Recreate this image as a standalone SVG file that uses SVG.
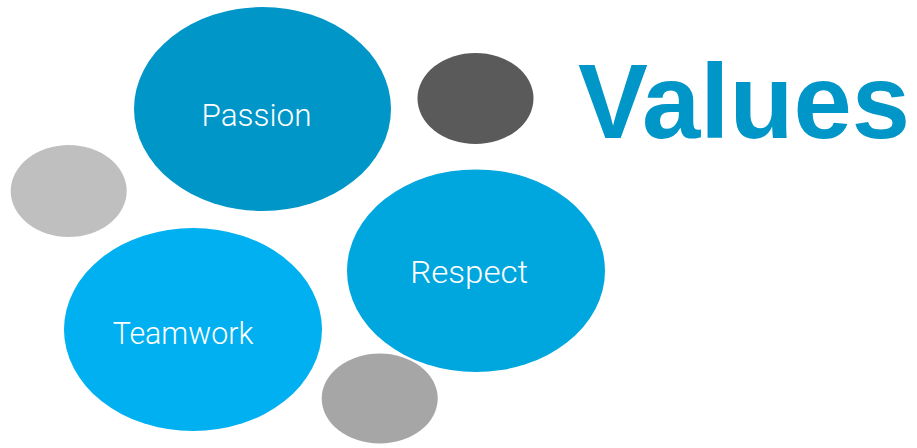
<svg xmlns="http://www.w3.org/2000/svg" width="917" height="448" viewBox="0 0 917 448">
<style>
.lbl{font-family:Roboto,"Liberation Sans",sans-serif;font-weight:300;font-size:32px;fill:#ffffff;text-anchor:middle}
.title{font-family:"Liberation Sans",Arial,sans-serif;font-weight:bold;font-size:105px;fill:#0096C8}
</style>
<rect width="917" height="448" fill="#ffffff"/>
<g id="passion">
<ellipse cx="262.5" cy="109" rx="128.5" ry="102" fill="#0096C8"/>
<text class="lbl" x="256.5" y="125.7" textLength="110" lengthAdjust="spacingAndGlyphs">Passion</text>
</g>
<g id="dark-circle">
<ellipse cx="475.5" cy="98.5" rx="58" ry="45.5" fill="#5A5A5A"/>
</g>
<g id="light-circle">
<ellipse cx="68.7" cy="191" rx="58" ry="46" fill="#BFBFBF"/>
</g>
<g id="respect">
<ellipse cx="476" cy="270.7" rx="129" ry="101.3" fill="#00A6DE"/>
<text class="lbl" x="469.2" y="283.3" textLength="118" lengthAdjust="spacingAndGlyphs">Respect</text>
</g>
<g id="teamwork">
<ellipse cx="193" cy="329.5" rx="129" ry="101.5" fill="#00B0F0"/>
<text class="lbl" x="183" y="344" textLength="140.5" lengthAdjust="spacingAndGlyphs">Teamwork</text>
</g>
<g id="gray-circle">
<ellipse cx="379.7" cy="398.5" rx="58" ry="45" fill="#A6A6A6"/>
</g>
<g id="connectors"></g>
<g id="title">
<text class="title" x="578" y="138.3" textLength="332" lengthAdjust="spacingAndGlyphs">Values</text>
</g>
</svg>
